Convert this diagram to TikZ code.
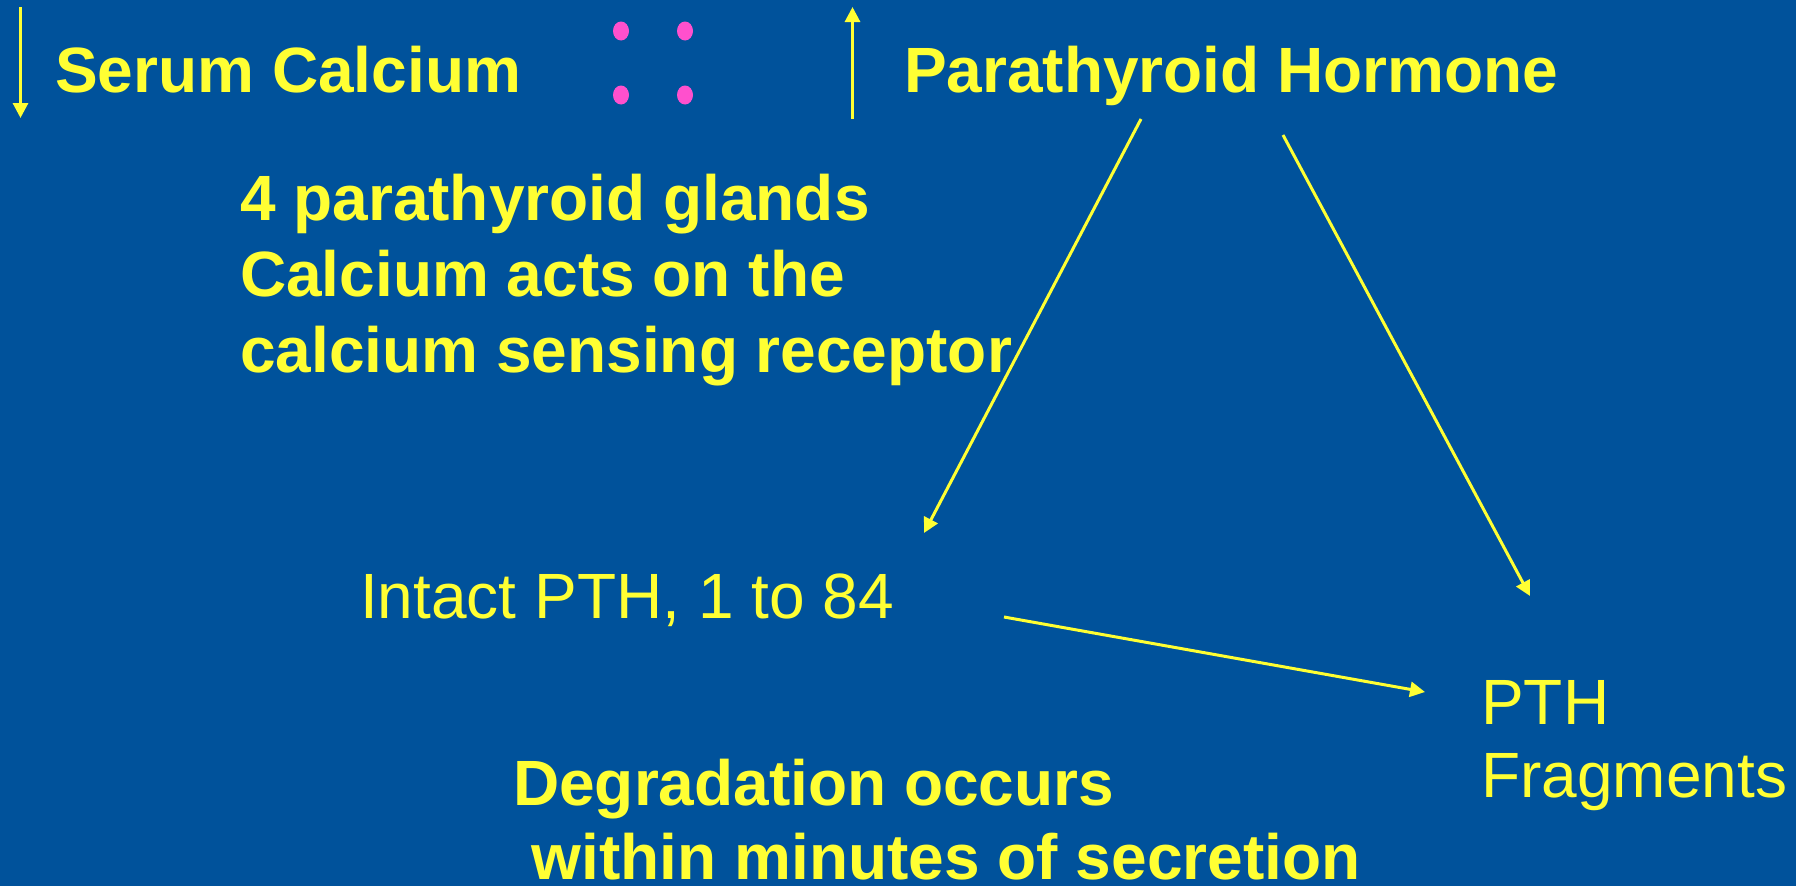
\documentclass[tikz,border=0pt]{standalone}
\usepackage{fontspec}
\setmainfont{Liberation Sans}
\usetikzlibrary{arrows.meta}
\definecolor{bgblue}{RGB}{0,82,155}
\definecolor{ylw}{RGB}{255,255,51}
\definecolor{dotpink}{RGB}{255,80,205}
\tikzset{
  txt/.style={anchor=base west, inner sep=0pt, text=ylw, font=\fontsize{64}{76}\selectfont},
  btxt/.style={txt, font=\fontsize{64}{76}\selectfont\bfseries},
  conn/.style={draw=ylw, line width=3pt, -{Triangle[length=15pt,width=15pt]}},
  dot/.style={fill=dotpink, draw=none},
}
\begin{document}
\begin{tikzpicture}[x=1pt,y=-1pt]
\fill[bgblue] (0,0) rectangle (1796,886);
\useasboundingbox (0,0) rectangle (1796,886);
% top row
\node[btxt] (serum) at (55,92) {Serum Calcium};
\node[btxt] (pth) at (904,92) {Parathyroid Hormone};
\coordinate (dnA) at (20.5,7);
\coordinate (dnB) at (20.5,118);
\draw[conn] (dnA) -- (dnB);
\coordinate (upA) at (852.5,119);
\coordinate (upB) at (852.5,7);
\draw[conn] (upA) -- (upB);
\fill[dot] (621,31) ellipse (8pt and 9.5pt);
\fill[dot] (685,31) ellipse (8pt and 9.5pt);
\fill[dot] (621,95) ellipse (8pt and 9.5pt);
\fill[dot] (685,95) ellipse (8pt and 9.5pt);
% glands text
\node[btxt] (l1) at (240,220) {4 parathyroid glands};
\node[btxt] (l2) at (240,296) {Calcium acts on the};
\node[btxt] (l3) at (240,372) {calcium sensing receptor};
% middle
\node[txt] (intact) at (360,618) {Intact PTH, 1 to 84};
\node[txt] (frag1) at (1481,724) {PTH};
\node[txt] (frag2) at (1481,797) {Fragments};
\node[btxt] (deg1) at (513,805) {Degradation occurs};
\node[btxt] (deg2) at (514,879) {\ within minutes of secretion};
% connectors
\coordinate (a1s) at (1141,119);
\coordinate (a1e) at (924,533);
\coordinate (a2s) at (1283,135);
\coordinate (a2e) at (1530,596);
\coordinate (a3s) at (1004,617);
\coordinate (a3e) at (1425,692);
\draw[conn] (a1s) -- (a1e);
\draw[conn] (a2s) -- (a2e);
\draw[conn] (a3s) -- (a3e);
\end{tikzpicture}
\end{document}
